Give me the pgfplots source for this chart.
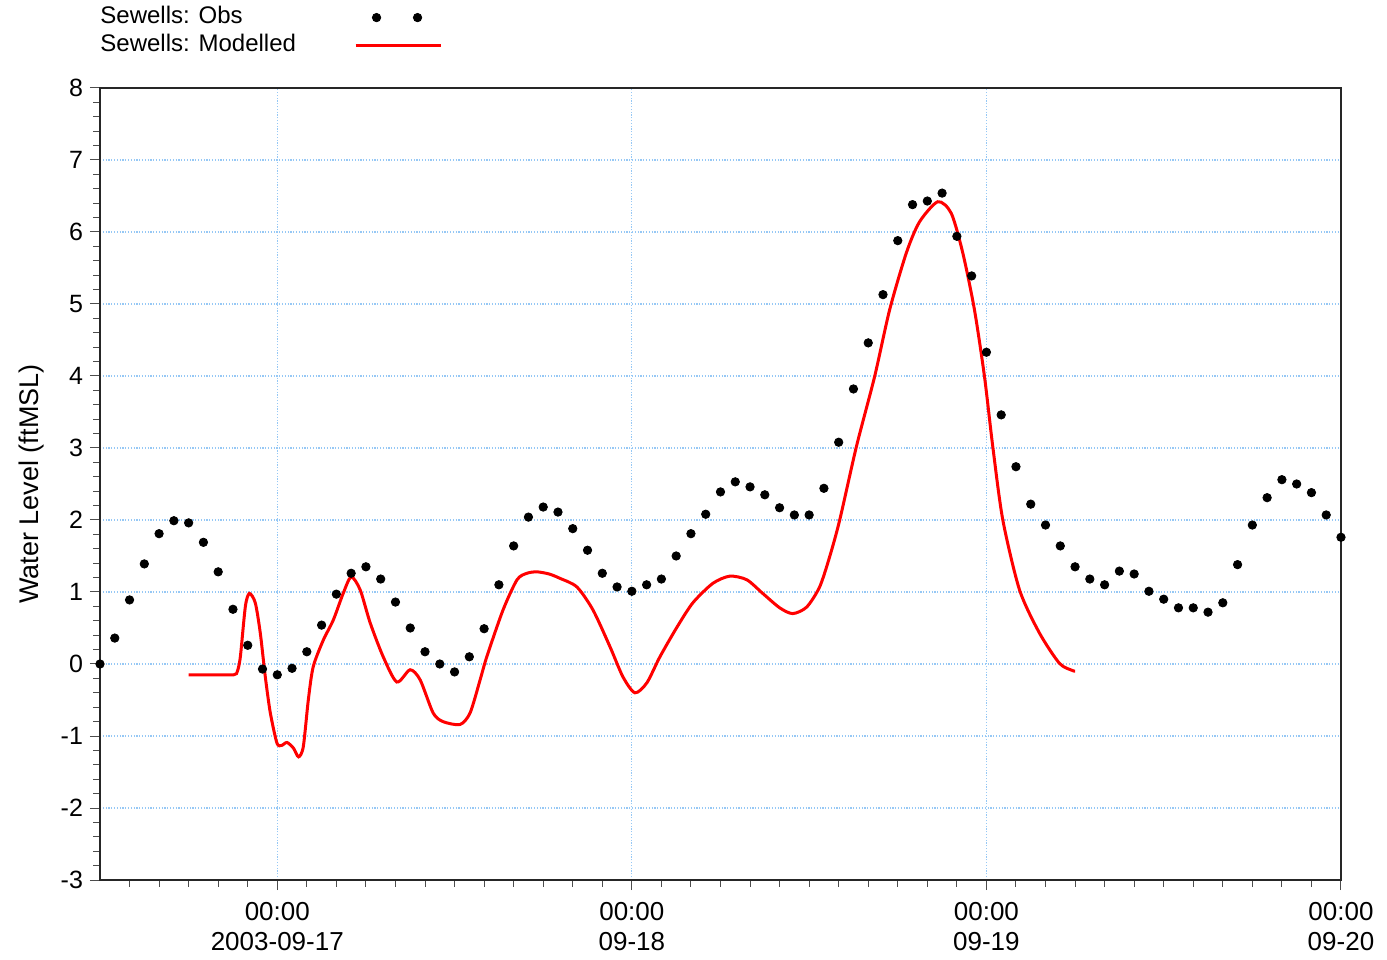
\documentclass[border=0pt]{standalone}
\usepackage{pgfplots}
\pgfplotsset{compat=1.18}
\usepackage{fontspec}
\setmainfont{Liberation Sans}
\definecolor{gridblue}{RGB}{150,200,245}
\begin{document}
\begin{tikzpicture}
\useasboundingbox (-50pt,-39.5pt) rectangle (643.5pt,440pt);
\begin{axis}[
  at={(0,0)}, anchor=south west,
  scale only axis, width=620.5pt, height=396pt,
  xmin=-12, xmax=72, ymin=-3, ymax=8,
  clip=false,
  xtick={0,24,48,72},
  xticklabels={00:00\\2003-09-17, 00:00\\09-18, 00:00\\09-19, 00:00\\09-20},
  minor xtick={-10,-8,...,70},
  ytick={-3,-2,-1,0,1,2,3,4,5,6,7,8},
  yticklabels={-3,-2,-1,0,1,2,3,4,5,6,7,8},
  minor y tick num=4,
  tick pos=left,
  tick align=outside,
  major tick length=5pt,
  minor tick length=3.3pt,
  tick style={black!70, line width=0.5pt},
  axis line style={black!85, line width=0.9pt},
  grid=major,
  major grid style={gridblue, line width=0.6pt, dash pattern=on 0.6pt off 0.8pt},
  xticklabel style={align=center, yshift=-2.5pt, font=\fontsize{13}{15}\selectfont},
  yticklabel style={font=\fontsize{12.5}{15}\selectfont},
  ylabel={Water Level (ftMSL)},
  every axis y label/.style={at={(axis description cs:-0.0548,0.5)}, rotate=90, anchor=center, font=\fontsize{13.5}{16}\selectfont},
  legend plot pos=right,
  legend cell align=left,
  legend style={at={(axis description cs:0,1)}, anchor=south west, yshift=14pt, xshift=-1pt,
    draw=none, fill=none, inner sep=0pt, column sep=28pt,
    font=\fontsize{12}{14}\selectfont,
    nodes={inner sep=1pt, text height=9pt, text depth=3pt}},
]
\addplot[only marks, mark=*, mark size=2.1pt, black,
  legend image code/.code={\path (0,0) (42.5pt,0); \fill[black] (10.5pt,0) circle (2.1pt); \fill[black] (31pt,0) circle (2.1pt);}]
coordinates {
(-12,0.00) (-11,0.36) (-10,0.89) (-9,1.39) (-8,1.81) (-7,1.99) (-6,1.96) (-5,1.69) (-4,1.28) (-3,0.76)
(-2,0.26) (-1,-0.07) (0,-0.15) (1,-0.06) (2,0.17) (3,0.54) (4,0.97) (5,1.26) (6,1.35) (7,1.18)
(8,0.86) (9,0.50) (10,0.17) (11,0.00) (12,-0.11) (13,0.10) (14,0.49) (15,1.10) (16,1.64) (17,2.04)
(18,2.18) (19,2.11) (20,1.88) (21,1.58) (22,1.26) (23,1.07) (24,1.01) (25,1.10) (26,1.18) (27,1.50)
(28,1.81) (29,2.08) (30,2.39) (31,2.53) (32,2.46) (33,2.35) (34,2.17) (35,2.07) (36,2.07) (37,2.44)
(38,3.08) (39,3.82) (40,4.46) (41,5.13) (42,5.88) (43,6.38) (44,6.43) (45,6.54) (46,5.94) (47,5.39)
(48,4.33) (49,3.46) (50,2.74) (51,2.22) (52,1.93) (53,1.64) (54,1.35) (55,1.18) (56,1.10) (57,1.29)
(58,1.25) (59,1.01) (60,0.90) (61,0.78) (62,0.78) (63,0.72) (64,0.85) (65,1.38) (66,1.93) (67,2.31)
(68,2.56) (69,2.50) (70,2.38) (71,2.07) (72,1.76)
};
\addlegendentry{Sewells: Obs}
\addplot[red, line width=1.5pt, smooth, tension=0.45,
  legend image code/.code={\draw[red, line width=1.5pt] (0,0) -- (42.5pt,0);}]
coordinates {
(-6.0,-0.15) (-4.5,-0.15) (-2.95,-0.15) (-2.7,-0.10) (-2.50,0.10) (-2.16,0.80) (-1.89,0.98) (-1.49,0.85)
(-1.15,0.43) (-0.81,-0.18) (-0.47,-0.68) (-0.02,-1.10) (0.30,-1.13) (0.66,-1.09) (1.10,-1.17) (1.44,-1.29)
(1.76,-1.15) (2.10,-0.50) (2.43,-0.04) (3.11,0.33) (3.79,0.61) (4.46,0.98) (5.00,1.21) (5.61,1.03)
(6.29,0.57) (7.17,0.10) (8.09,-0.25) (8.99,-0.08) (9.67,-0.22) (10.55,-0.68) (11.22,-0.80) (12.37,-0.84)
(13.05,-0.68) (13.73,-0.22) (14.18,0.10) (15.28,0.75) (16.23,1.17) (16.9,1.26) (17.58,1.28) (18.4,1.25) (19.13,1.19) (20.28,1.07)
(21.37,0.75) (22.52,0.24) (23.40,-0.18) (24.21,-0.40) (25.02,-0.26) (25.90,0.10) (27.05,0.51) (28.13,0.85)
(29.48,1.12) (30.63,1.22) (31.78,1.17) (32.86,0.98) (34.01,0.78) (34.89,0.70) (35.83,0.79) (36.71,1.07)
(37.39,1.49) (38.07,2.00) (39.20,3.02) (40.43,3.99) (41.45,4.92) (42.58,5.71) (43.47,6.14) (44.71,6.42)
(45.62,6.26) (46.40,5.71) (47.19,4.92) (47.87,3.99) (48.43,3.02) (49.11,2.00) (50.24,1.03) (51.59,0.43)
(52.94,0.01) (53.82,-0.09) (54.0,-0.10)
};
\addlegendentry{Sewells: Modelled}
\end{axis}
\end{tikzpicture}
\end{document}
